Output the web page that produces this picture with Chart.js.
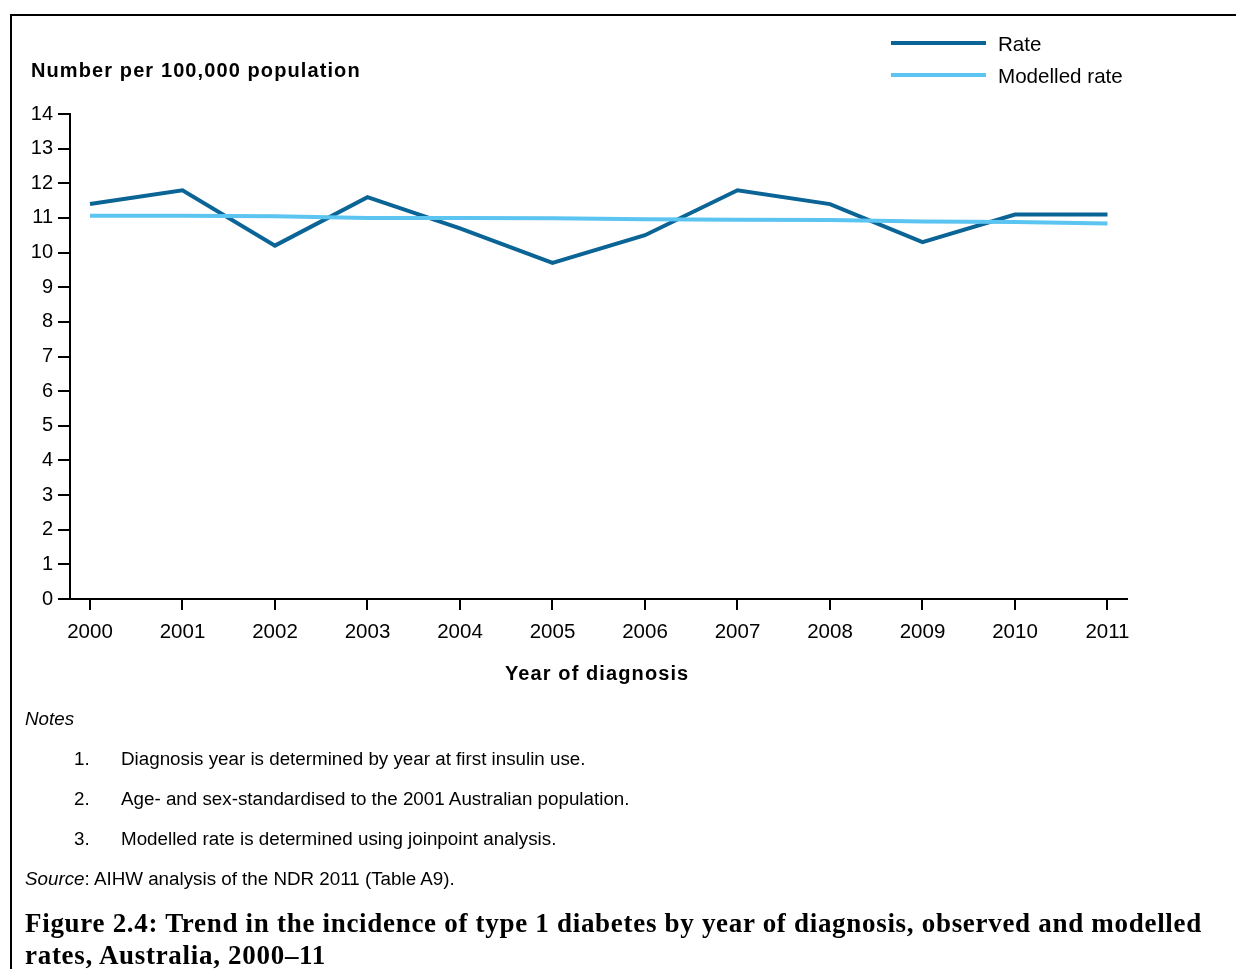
<!DOCTYPE html>
<html>
<head>
    <meta charset="utf-8">
    <title>Type 1 diabetes incidence 2000-11</title>
    <script src="https://cdn.jsdelivr.net/npm/chart.js"></script>
    <style>
        body {
            margin: 0;
            background: #ffffff;
            font-family: "Liberation Sans", Arial, sans-serif;
            color: #000;
        }
        #page {
            position: relative;
            width: 1236px;
            height: 969px;
            overflow: hidden;
        }
        #frame {
            position: absolute;
            left: 10px;
            top: 14px;
            width: 1300px;
            height: 1000px;
            border-left: 2px solid #000;
            border-top: 2px solid #000;
        }
        #chart {
            position: absolute;
            left: 0;
            top: 0;
        }
        .txt {
            position: absolute;
            white-space: nowrap;
            line-height: 1;
        }
        .axis-title {
            font-weight: bold;
            font-size: 20px;
            letter-spacing: 1.1px;
        }
        .leg-line {
            position: absolute;
            left: 891px;
            width: 95px;
            height: 4px;
        }
        .leg-text {
            left: 998px;
            font-size: 20.6px;
        }
        .note {
            font-size: 18.8px;
        }
        .caption {
            font-family: "Liberation Serif", "DejaVu Serif", serif;
            font-weight: bold;
            font-size: 27px;
            letter-spacing: 0.7px;
            left: 25px;
        }
    </style>
</head>
<body>
<div id="page">
    <div id="frame"></div>
    <canvas id="chart" width="1236" height="969"></canvas>

    <div class="txt axis-title" style="left:31px; top:60px;">Number per 100,000 population</div>
    <div class="txt axis-title" style="left:505px; top:663px;">Year of diagnosis</div>

    <div class="leg-line" style="top:41px; background:#0a6496;"></div>
    <div class="txt leg-text" style="top:34px;">Rate</div>
    <div class="leg-line" style="top:73px; background:#5bc4f1;"></div>
    <div class="txt leg-text" style="top:66px;">Modelled rate</div>

    <div class="txt note" style="left:25px; top:710px; font-style:italic;">Notes</div>
    <div class="txt note" style="left:74px; top:750px;">1.</div>
    <div class="txt note" style="left:121px; top:750px;">Diagnosis year is determined by year at first insulin use.</div>
    <div class="txt note" style="left:74px; top:790px;">2.</div>
    <div class="txt note" style="left:121px; top:790px;">Age- and sex-standardised to the 2001 Australian population.</div>
    <div class="txt note" style="left:74px; top:830px;">3.</div>
    <div class="txt note" style="left:121px; top:830px;">Modelled rate is determined using joinpoint analysis.</div>
    <div class="txt note" style="left:25px; top:870px;"><i>Source</i>: AIHW analysis of the NDR 2011 (Table A9).</div>

    <div class="txt caption" style="top:910px;">Figure 2.4: Trend in the incidence of type 1 diabetes by year of diagnosis, observed and modelled</div>
    <div class="txt caption" style="top:942px;">rates, Australia, 2000&ndash;11</div>
</div>

<script>
    // Data
    var years = [2000, 2001, 2002, 2003, 2004, 2005, 2006, 2007, 2008, 2009, 2010, 2011];
    var rate = [11.4, 11.8, 10.2, 11.6, 10.7, 9.7, 10.5, 11.8, 11.4, 10.3, 11.1, 11.1];
    var modelledRate = [11.06, 11.06, 11.05, 11.0, 11.0, 10.99, 10.96, 10.95, 10.94, 10.9, 10.88, 10.84];
    var yTicks = [0, 1, 2, 3, 4, 5, 6, 7, 8, 9, 10, 11, 12, 13, 14];

    function toPoints(values) {
        return years.map(function (yr, i) {
            return { x: yr, y: values[i] };
        });
    }

    var ctx = document.getElementById('chart').getContext('2d');
    var trendChart = new Chart(ctx, {
        type: 'line',
        data: {
            datasets: [{
                label: 'Rate',
                data: toPoints(rate),
                borderColor: '#0a6496',
                borderWidth: 4,
                pointRadius: 0,
                tension: 0,
                order: 1
            }, {
                label: 'Modelled rate',
                data: toPoints(modelledRate),
                borderColor: '#5bc4f1',
                borderWidth: 4,
                pointRadius: 0,
                tension: 0,
                order: 0
            }]
        },
        options: {
            responsive: false,
            animation: false,
            layout: {
                padding: { left: 0, top: 114, right: 109, bottom: 310 }
            },
            plugins: {
                legend: { display: false },
                tooltip: { enabled: false }
            },
            scales: {
                x: {
                    type: 'linear',
                    min: 1999.784,
                    max: 2011.211,
                    afterBuildTicks: function (scale) {
                        scale.ticks = years.map(function (v) { return { value: v }; });
                    },
                    afterFit: function (scale) {
                        scale.height = 60;
                    },
                    grid: {
                        display: true,
                        drawOnChartArea: false,
                        drawTicks: true,
                        tickLength: 11,
                        color: '#000',
                        lineWidth: 2
                    },
                    border: { display: true, color: '#000', width: 2 },
                    ticks: {
                        color: '#000',
                        padding: 10,
                        maxRotation: 0,
                        autoSkip: false,
                        font: { family: 'Liberation Sans', size: 20.5 },
                        callback: function (v) { return String(v); }
                    }
                },
                y: {
                    min: 0,
                    max: 14,
                    afterBuildTicks: function (scale) {
                        scale.ticks = yTicks.map(function (v) { return { value: v }; });
                    },
                    afterFit: function (scale) {
                        scale.width = 70;
                    },
                    grid: {
                        display: true,
                        drawOnChartArea: false,
                        drawTicks: true,
                        tickLength: 12,
                        color: '#000',
                        lineWidth: 2
                    },
                    border: { display: true, color: '#000', width: 2 },
                    ticks: {
                        color: '#000',
                        padding: 5,
                        font: { family: 'Liberation Sans', size: 20 }
                    }
                }
            }
        }
    });
</script>
</body>
</html>
